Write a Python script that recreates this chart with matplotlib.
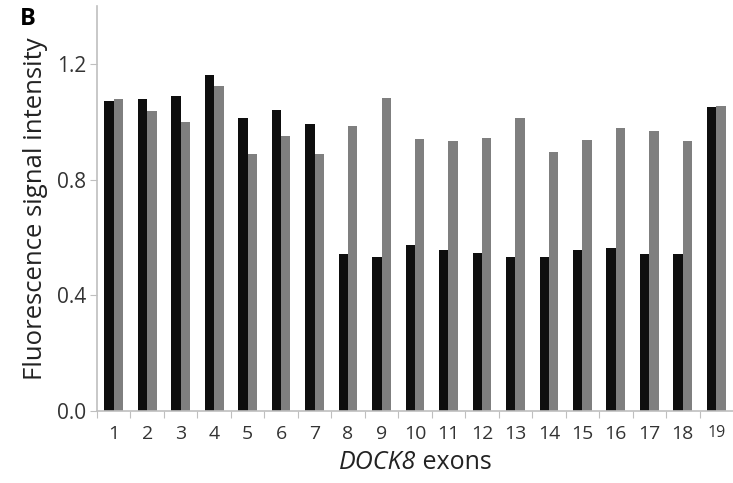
import numpy as np
import matplotlib
matplotlib.use('Agg')
import matplotlib.pyplot as plt

plt.rcParams['font.family'] = ['Open Sans', 'DejaVu Sans']

# 数据：DOCK8 外显子荧光信号强度
exons = [str(i) for i in range(1, 20)]
patient = [1.07, 1.08, 1.09, 1.163, 1.013, 1.04, 0.993, 0.543, 0.534, 0.574,
           0.555, 0.546, 0.534, 0.534, 0.555, 0.563, 0.543, 0.543, 1.051]
control = [1.08, 1.036, 0.998, 1.125, 0.888, 0.951, 0.888, 0.984, 1.081, 0.94,
           0.932, 0.945, 1.013, 0.897, 0.938, 0.98, 0.969, 0.932, 1.055]
yticks = [0.0, 0.4, 0.8, 1.2]

fig = plt.figure(figsize=(7.33, 4.83), dpi=100)
ax = fig.add_axes([97 / 733, 72 / 483, 1 - 97 / 733, 405 / 483])

x = np.arange(len(exons))
w = 0.28
ax.bar(x - w / 2, patient, width=w, color='#0e0e0e')
ax.bar(x + w / 2, control, width=w, color='#7f7f7f')

ax.set_xlim(-0.5, len(exons) - 0.5)
ax.set_ylim(0, 1.4)

# 刻度：主刻度在类别之间，标签放在次刻度上
ax.set_yticks(yticks)
ax.set_yticklabels([f'{v:.1f}' for v in yticks], fontsize=15, color='#333333')
ax.set_xticks(x - 0.5, minor=False)
ax.set_xticklabels([])
ax.set_xticks(x, minor=True)
ax.set_xticklabels(exons, minor=True, fontsize=14, color='#333333')
ax.get_xticklabels(minor=True)[-1].set_fontsize(11.5)
ax.tick_params(axis='x', which='major', length=5, color='#bfbfbf', direction='out')
ax.tick_params(axis='x', which='minor', length=0, pad=10)
ax.tick_params(axis='y', length=5, color='#bfbfbf', direction='out', pad=3)

for side in ['top', 'right']:
    ax.spines[side].set_visible(False)
for side in ['left', 'bottom']:
    ax.spines[side].set_color('#bfbfbf')
    ax.spines[side].set_linewidth(1.2)

ax.set_ylabel('Fluorescence signal intensity', fontsize=18.5, color='#222222', labelpad=6)

# x 轴标题：DOCK8 斜体 + exons 正体
renderer = fig.canvas.get_renderer()
t1 = fig.text(0, 14 / 483, 'DOCK8', fontsize=18, style='italic', color='#222222', va='baseline')
t2 = fig.text(0, 14 / 483, ' exons', fontsize=18, color='#222222', va='baseline')
w1 = t1.get_window_extent(renderer).width
w2 = t2.get_window_extent(renderer).width
x0 = 415 - (w1 + w2) / 2
t1.set_x(x0 / 733)
t2.set_x((x0 + w1) / 733)

fig.text(20 / 733, 1 - 19 / 483, 'B', fontsize=17, fontweight='bold', va='center', ha='left')

plt.savefig('out.png', dpi=100)
